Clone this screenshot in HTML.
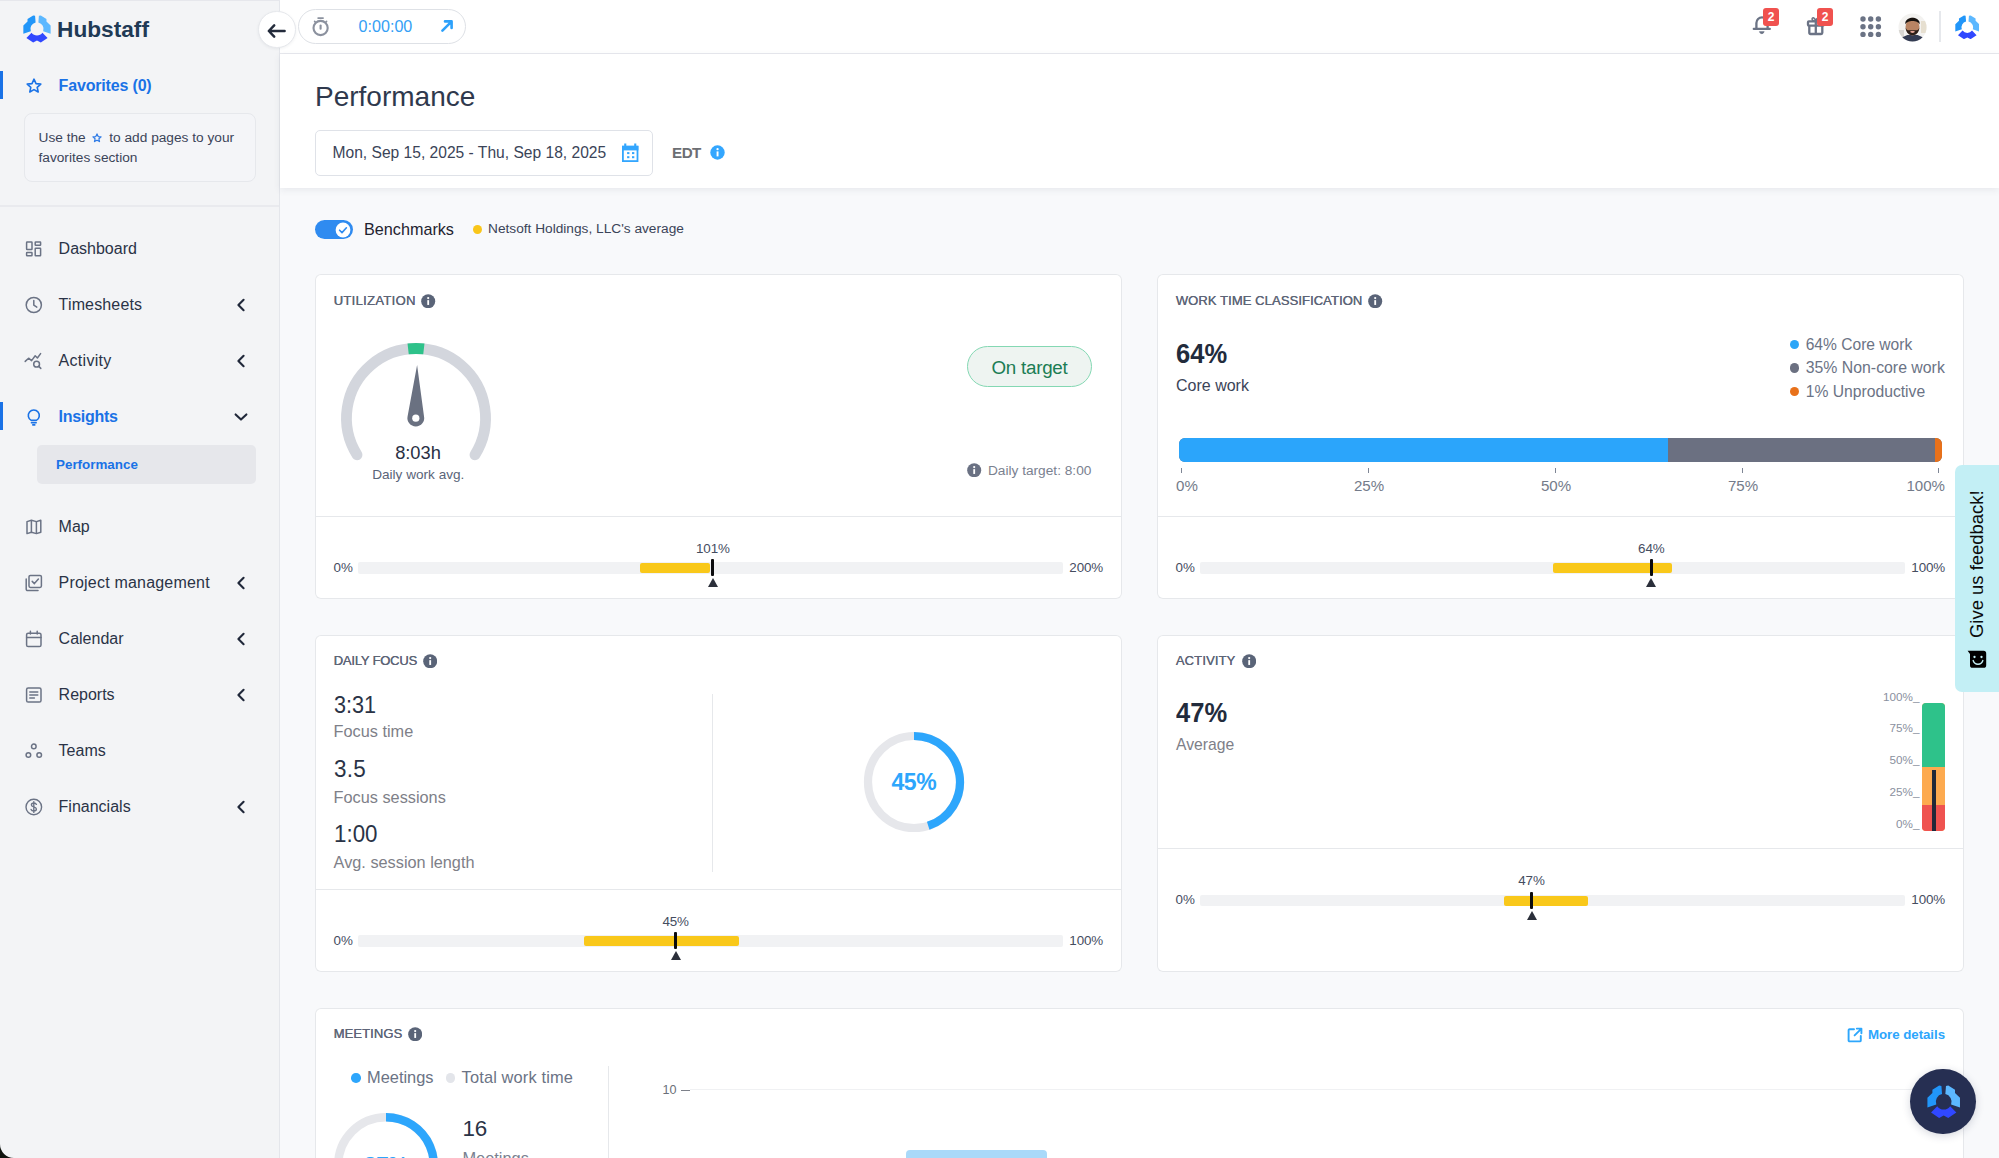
<!DOCTYPE html>
<html>
<head>
<meta charset="utf-8">
<title>Performance</title>
<style>
*{box-sizing:border-box;margin:0;padding:0}
html,body{width:1999px;height:1158px;overflow:hidden;background:#f8f9fb;font-family:"Liberation Sans",sans-serif;color:#2a3346}
.abs{position:absolute}
#side{position:absolute;left:0;top:0;width:280px;height:1158px;background:#f3f4f6;border-right:1px solid #e4e6eb}
#top{position:absolute;left:280px;top:0;width:1719px;height:54px;background:#fff;border-bottom:1px solid #e8e9ee}
#head{position:absolute;left:280px;top:54px;width:1719px;height:134px;background:#fff;box-shadow:0 2px 7px rgba(60,70,90,.09)}
.nav{position:absolute;left:58.6px;margin-top:1px;font-size:16px;color:#2a3346;line-height:20px;white-space:nowrap}
.ico{position:absolute;left:24px;margin-top:.5px;width:20px;height:20px}
.chev{position:absolute;left:233px;margin-top:1px;width:16px;height:16px}
.card{position:absolute;background:#fff;box-shadow:inset 0 0 0 1px #e6e8eb;border-radius:6px}
.ttl{position:absolute;font-size:13px;color:#5d6577;white-space:nowrap;line-height:14px;text-shadow:.3px 0 0 #5d6577}
.sep{position:absolute;left:1px;right:1px;height:1px;background:#e6e8eb}
.bm{position:absolute;left:0;right:0;height:82px}
.bm .l,.bm .r,.bm .v{position:absolute;font-size:13.4px;letter-spacing:-.15px;color:#454d5f;line-height:14px;white-space:nowrap}
.bm .l{left:18.6px;top:44.9px}
.bm .r{right:19px;top:44.9px}
.bm .v{top:25.9px;width:60px;text-align:center}
.bm .track{position:absolute;left:43px;width:705.4px;top:46px;height:11.8px;background:#f1f2f4;border-radius:2px}
.bm .fill{position:absolute;top:47.2px;height:9.8px;background:#f9c81a;border-radius:2px}
.bm .tick{position:absolute;top:43.2px;width:3px;height:17px;background:#0c0c0e;border-radius:1px}
.bm .tri{position:absolute;top:62px;width:0;height:0;border-left:5px solid transparent;border-right:5px solid transparent;border-bottom:9.4px solid #2b2f3a}
.t{position:absolute;white-space:nowrap}
.lb{right:44.6px;font-size:11.7px;line-height:14px;color:#8a909e}
</style>
</head>
<body>
<!-- SIDEBAR -->
<div id="side">
  <div class="abs" style="left:0;top:0;width:280px;height:1px;background:#e6e7ec"></div>
  <!-- logo -->
  <svg class="abs" style="left:22.8px;top:15.2px" width="27.8" height="27.8" viewBox="0 0 32 32">
    <path d="M13.9 0.9 L11.7 0.5 L5.2 4.6 L5.2 7.6 L0.4 12.2 L0.4 21.6 L8.96 18.7 A7.6 7.6 0 0 1 14.5 8.67 Z" fill="#2196f9"/>
    <path d="M18.3 0.9 L20.5 0.5 L27 4.6 L27 7.6 L31.8 12.2 L31.8 21.6 L23.24 18.7 A7.6 7.6 0 0 0 17.7 8.67 Z" fill="#5cb8ff"/>
    <path d="M9.87 20.46 A7.6 7.6 0 0 0 22.33 20.46 L28.3 26.5 L20.5 31.7 L16.1 29.4 L11.7 31.7 L3.9 26.5 Z" fill="#3048ff"/>
  </svg>
  <div class="t" style="left:56.6px;top:16.6px;font-size:21.5px;font-weight:bold;color:#1f3a55;line-height:26px;transform-origin:0 0;transform:scaleX(1.055)">Hubstaff</div>

  <!-- favorites -->
  <div class="abs" style="left:0;top:71px;width:3px;height:28px;background:#1a72e6"></div>
  <svg class="ico" style="top:75px" viewBox="0 0 20 20"><path d="M10 3.2 L12 7.6 L16.8 8.1 L13.2 11.3 L14.2 16 L10 13.6 L5.8 16 L6.8 11.3 L3.2 8.1 L8 7.6 Z" fill="none" stroke="#1a72e6" stroke-width="1.6" stroke-linejoin="round"/></svg>
  <div class="nav" style="top:74.5px;font-weight:bold;color:#1a72e6;letter-spacing:-.17px">Favorites (0)</div>
  <div class="abs" style="left:24px;top:113px;width:232px;height:69px;border:1px solid #e6e8ec;border-radius:8px;background:#f4f5f8"></div>
  <div class="t" style="left:38.5px;top:128px;font-size:13.7px;line-height:20px;color:#3b4458">Use the <svg width="12" height="12" viewBox="0 0 20 20" style="vertical-align:-2px;margin:0 2px"><path d="M10 3.2 L12 7.6 L16.8 8.1 L13.2 11.3 L14.2 16 L10 13.6 L5.8 16 L6.8 11.3 L3.2 8.1 L8 7.6 Z" fill="none" stroke="#2f7be6" stroke-width="2" stroke-linejoin="round"/></svg> to add pages to your<br>favorites section</div>
  <div class="abs" style="left:0;top:205px;width:279px;height:2px;background:#e9eaee"></div>

  <!-- Dashboard -->
  <svg class="ico" style="top:238px" viewBox="0 0 20 20" fill="none" stroke="#6b7385" stroke-width="1.5"><rect x="2.6" y="3" width="5.4" height="7.6" rx=".5"/><rect x="11.2" y="3" width="5.4" height="3.2" rx=".5"/><rect x="2.6" y="13.6" width="5.4" height="3.2" rx=".5"/><rect x="11.2" y="9.2" width="5.4" height="7.6" rx=".5"/></svg>
  <div class="nav" style="top:238px">Dashboard</div>
  <!-- Timesheets -->
  <svg class="ico" style="top:294px" viewBox="0 0 20 20" fill="none" stroke="#6b7385" stroke-width="1.5" stroke-linecap="round" stroke-linejoin="round"><circle cx="9.8" cy="10" r="7.6"/><path d="M9.8 5.6 V10.2 L12.8 12.2"/></svg>
  <div class="nav" style="top:294px;letter-spacing:.15px">Timesheets</div>
  <svg class="chev" style="top:296px" viewBox="0 0 16 16" fill="none" stroke="#20283a" stroke-width="2.1" stroke-linecap="round" stroke-linejoin="round"><path d="M10.6 2.8 L5.4 8 L10.6 13.2"/></svg>
  <!-- Activity -->
  <svg class="ico" style="top:350px" viewBox="0 0 20 20" fill="none" stroke="#6b7385" stroke-width="1.5" stroke-linecap="round" stroke-linejoin="round"><path d="M1.2 10.4 L4.6 7.2 L7.6 9.6 L11.2 4.8 L13.4 7 L16.6 2.6"/><circle cx="12.6" cy="13.2" r="2.9"/><path d="M14.8 15.4 L16.8 17.4"/></svg>
  <div class="nav" style="top:350px;letter-spacing:.3px">Activity</div>
  <svg class="chev" style="top:352px" viewBox="0 0 16 16" fill="none" stroke="#20283a" stroke-width="2.1" stroke-linecap="round" stroke-linejoin="round"><path d="M10.6 2.8 L5.4 8 L10.6 13.2"/></svg>
  <!-- Insights -->
  <div class="abs" style="left:0;top:402px;width:3px;height:28px;background:#1a72e6"></div>
  <svg class="ico" style="top:406px" viewBox="0 0 20 20" fill="none" stroke="#1a72e6" stroke-width="1.6" stroke-linecap="round" stroke-linejoin="round"><path d="M7.2 13.4 A5.5 5.5 0 1 1 12.4 13.4 Z"/><path d="M7.4 15.8 H12.2"/><path d="M8.8 17.9 H10.8"/></svg>
  <div class="nav" style="top:406px;font-weight:bold;color:#1a72e6;letter-spacing:-.3px">Insights</div>
  <svg class="chev" style="top:408px" viewBox="0 0 16 16" fill="none" stroke="#20283a" stroke-width="2.1" stroke-linecap="round" stroke-linejoin="round"><path d="M2.6 5.4 L8 10.6 L13.4 5.4"/></svg>
  <div class="abs" style="left:37px;top:445px;width:219px;height:39px;background:#e6e7eb;border-radius:5px"></div>
  <div class="t" style="left:56px;top:456px;font-size:13.4px;font-weight:bold;color:#1a72e6;line-height:18px">Performance</div>
  <!-- Map -->
  <svg class="ico" style="top:516px" viewBox="0 0 20 20" fill="none" stroke="#6b7385" stroke-width="1.5" stroke-linejoin="round"><path d="M3 4.6 L7.4 3.2 L12.4 4.6 L16.8 3.2 V15.2 L12.4 16.6 L7.4 15.2 L3 16.6 Z"/><path d="M7.4 3.2 V15.2 M12.4 4.6 V16.6"/></svg>
  <div class="nav" style="top:516px">Map</div>
  <!-- Project management -->
  <svg class="ico" style="top:572px" viewBox="0 0 20 20" fill="none" stroke="#6b7385" stroke-width="1.5" stroke-linecap="round" stroke-linejoin="round"><rect x="5" y="2.4" width="12.4" height="12" rx="1.4"/><path d="M8.2 8.4 L10.4 10.6 L14.4 6"/><path d="M2.2 6 V16.2 A1.4 1.4 0 0 0 3.6 17.6 H14"/></svg>
  <div class="nav" style="top:572px;letter-spacing:.2px">Project management</div>
  <svg class="chev" style="top:574px" viewBox="0 0 16 16" fill="none" stroke="#20283a" stroke-width="2.1" stroke-linecap="round" stroke-linejoin="round"><path d="M10.6 2.8 L5.4 8 L10.6 13.2"/></svg>
  <!-- Calendar -->
  <svg class="ico" style="top:628px" viewBox="0 0 20 20" fill="none" stroke="#6b7385" stroke-width="1.5" stroke-linecap="round" stroke-linejoin="round"><rect x="2.6" y="4.2" width="14.4" height="13.4" rx="1.6"/><path d="M2.6 8.4 H17 M6.4 2.2 V5 M13.2 2.2 V5"/></svg>
  <div class="nav" style="top:628px">Calendar</div>
  <svg class="chev" style="top:630px" viewBox="0 0 16 16" fill="none" stroke="#20283a" stroke-width="2.1" stroke-linecap="round" stroke-linejoin="round"><path d="M10.6 2.8 L5.4 8 L10.6 13.2"/></svg>
  <!-- Reports -->
  <svg class="ico" style="top:684px" viewBox="0 0 20 20" fill="none" stroke="#6b7385" stroke-width="1.5" stroke-linecap="round" stroke-linejoin="round"><rect x="2.6" y="3" width="14.4" height="14" rx="1.6"/><path d="M5.8 7 H13.8 M5.8 10 H13.8 M5.8 13 H10.4"/></svg>
  <div class="nav" style="top:684px">Reports</div>
  <svg class="chev" style="top:686px" viewBox="0 0 16 16" fill="none" stroke="#20283a" stroke-width="2.1" stroke-linecap="round" stroke-linejoin="round"><path d="M10.6 2.8 L5.4 8 L10.6 13.2"/></svg>
  <!-- Teams -->
  <svg class="ico" style="top:740px" viewBox="0 0 20 20" fill="none" stroke="#6b7385" stroke-width="1.5"><circle cx="9.8" cy="5.4" r="2.3"/><circle cx="4.4" cy="14" r="2.3"/><circle cx="15.2" cy="14" r="2.3"/></svg>
  <div class="nav" style="top:740px">Teams</div>
  <!-- Financials -->
  <svg class="ico" style="top:796px" viewBox="0 0 20 20" fill="none" stroke="#6b7385" stroke-width="1.4" stroke-linecap="round" stroke-linejoin="round"><circle cx="9.8" cy="10" r="7.8"/><path d="M12.4 7.4 C12 6.4 11 6 9.8 6 C8.4 6 7.4 6.8 7.4 7.9 C7.4 10.4 12.4 9.4 12.4 12 C12.4 13.2 11.3 14 9.8 14 C8.5 14 7.5 13.5 7.1 12.4 M9.8 4.6 V15.4"/></svg>
  <div class="nav" style="top:796px">Financials</div>
  <svg class="chev" style="top:798px" viewBox="0 0 16 16" fill="none" stroke="#20283a" stroke-width="2.1" stroke-linecap="round" stroke-linejoin="round"><path d="M10.6 2.8 L5.4 8 L10.6 13.2"/></svg>
</div>

<!-- TOPBAR -->
<div id="top">
  <!-- timer pill -->
  <div class="abs" style="left:18px;top:9px;width:168px;height:35px;border:1px solid #dee1e6;border-radius:18px;background:#fff"></div>
  <svg class="abs" style="left:30.6px;top:15.6px" width="20" height="22" viewBox="0 0 20 22" fill="none" stroke="#8b919e" stroke-width="2.1" stroke-linecap="round"><circle cx="9.6" cy="12" r="7.1"/><path d="M9.6 9.6 V12.8"/><path d="M7.2 2.1 H12" stroke-width="1.9"/><path d="M3.6 5.4 L4.6 6.4 M15.6 5.4 L14.6 6.4" stroke-width="1.6"/></svg>
  <div class="t" style="left:78.6px;top:16.3px;font-size:16.1px;line-height:20px;color:#35a0f5">0:00:00</div>
  <svg class="abs" style="left:159px;top:17.8px" width="16" height="16" viewBox="0 0 16 16" fill="none" stroke="#2da1fb" stroke-width="2.6" stroke-linecap="round" stroke-linejoin="round"><path d="M3.4 12.6 L12.2 3.8 M6 3.4 H12.6 V10"/></svg>
  <!-- bell -->
  <svg class="abs" style="left:1471.4px;top:14px" width="22" height="22" viewBox="0 0 22 22" fill="none" stroke="#6b7385" stroke-width="2.3" stroke-linecap="round" stroke-linejoin="round"><path d="M2.8 14.9 H18.8 M5.4 14.4 V9 A5.6 5.6 0 0 1 16.6 9 V14.4"/><path d="M8.6 18 A2.3 2.3 0 0 0 13 18 Z" fill="#6b7385" stroke-width=".8"/></svg>
  <div class="abs" style="left:1483px;top:8px;width:16px;height:17.6px;background:#f0524f;border-radius:3px;color:#fff;font-size:12px;font-weight:bold;text-align:center;line-height:19.6px">2</div>
  <!-- gift -->
  <svg class="abs" style="left:1525.3px;top:15px" width="22" height="22" viewBox="0 0 22 22" fill="none" stroke="#6b7385" stroke-width="2.3" stroke-linejoin="round"><rect x="3" y="6.4" width="15.6" height="4.2" rx="0.8"/><path d="M4.3 10.6 V17.8 A1.2 1.2 0 0 0 5.5 19 H16.1 A1.2 1.2 0 0 0 17.3 17.8 V10.6 M10.8 6.6 V19"/><path d="M10.8 6.2 C8 6.2 6.8 5 7.1 3.7 C7.5 2.2 9.9 2.4 10.8 6.2 C11.7 2.4 14.1 2.2 14.5 3.7 C14.8 5 13.6 6.2 10.8 6.2 Z" stroke-width="1.5"/></svg>
  <div class="abs" style="left:1537px;top:8px;width:16px;height:17.6px;background:#f0524f;border-radius:3px;color:#fff;font-size:12px;font-weight:bold;text-align:center;line-height:19.6px">2</div>
  <!-- grid -->
  <svg class="abs" style="left:1579px;top:15px" width="24" height="24" viewBox="0 0 24 24" fill="#6b7385"><circle cx="4" cy="4" r="2.7"/><circle cx="11.7" cy="4" r="2.7"/><circle cx="19.4" cy="4" r="2.7"/><circle cx="4" cy="11.7" r="2.7"/><circle cx="11.7" cy="11.7" r="2.7"/><circle cx="19.4" cy="11.7" r="2.7"/><circle cx="4" cy="19.4" r="2.7"/><circle cx="11.7" cy="19.4" r="2.7"/><circle cx="19.4" cy="19.4" r="2.7"/></svg>
  <!-- avatar -->
  <svg class="abs" style="left:1618.4px;top:13px" width="29" height="29" viewBox="0 0 29 29"><defs><clipPath id="av"><circle cx="14.5" cy="14.5" r="14"/></clipPath></defs><g clip-path="url(#av)"><rect width="29" height="29" fill="#f3f2f0"/><rect x="0" y="17" width="6" height="12" fill="#d8d6d2"/><rect x="23" y="8" width="6" height="12" fill="#e6dfd0"/><ellipse cx="14.5" cy="30" rx="13.5" ry="8.5" fill="#333b52"/><ellipse cx="14.5" cy="13.6" rx="6.9" ry="8.8" fill="#b98463"/><path d="M7.3 11.6 C6.2 2.6 22.8 2.6 21.7 11.6 C20.4 6.8 8.6 6.8 7.3 11.6 Z" fill="#17120f"/><path d="M7.6 14 C7.6 25 21.4 25 21.4 14 C20.4 18.6 17.6 17 14.5 17 C11.4 17 8.6 18.6 7.6 14 Z" fill="#2b1e18"/><ellipse cx="14.5" cy="18.8" rx="2.3" ry="1.1" fill="#e3a596"/></g></svg>
  <div class="abs" style="left:1659.2px;top:11px;width:1.4px;height:31px;background:#e6e8ec"></div>
  <!-- logo small -->
  <svg class="abs" style="left:1675px;top:15px" width="24.4" height="24.4" viewBox="0 0 32 32">
    <path d="M13.9 0.9 L11.7 0.5 L5.2 4.6 L5.2 7.6 L0.4 12.2 L0.4 21.6 L8.96 18.7 A7.6 7.6 0 0 1 14.5 8.67 Z" fill="#2196f9"/>
    <path d="M18.3 0.9 L20.5 0.5 L27 4.6 L27 7.6 L31.8 12.2 L31.8 21.6 L23.24 18.7 A7.6 7.6 0 0 0 17.7 8.67 Z" fill="#5cb8ff"/>
    <path d="M9.87 20.46 A7.6 7.6 0 0 0 22.33 20.46 L28.3 26.5 L20.5 31.7 L16.1 29.4 L11.7 31.7 L3.9 26.5 Z" fill="#3048ff"/>
  </svg>
</div>
<!-- back button -->
<div class="abs" style="left:258px;top:10.6px;width:37.5px;height:37.5px;border-radius:50%;background:#fff;border:1px solid #e6e8ec;box-shadow:0 1px 3px rgba(40,50,70,.07)"></div>
<svg class="abs" style="left:266px;top:20.5px" width="21" height="20" viewBox="0 0 21 20" fill="none" stroke="#232b3b" stroke-width="2.5" stroke-linecap="round" stroke-linejoin="round"><path d="M3 10 H18.6 M8.2 4.4 L2.8 10 L8.2 15.6"/></svg>
<!-- HEADER -->
<div id="head">
  <div class="t" style="left:35px;top:26px;font-size:28px;color:#2f394d;line-height:34px">Performance</div>
  <div class="abs" style="left:35px;top:76px;width:338px;height:46px;border:1px solid #dfe2e8;border-radius:5px;background:#fff"></div>
  <div class="t" style="left:52.5px;top:89px;font-size:15.6px;line-height:20px;color:#3b4458">Mon, Sep 15, 2025 - Thu, Sep 18, 2025</div>
  <svg class="abs" style="left:341px;top:88px" width="19" height="21" viewBox="0 0 19 21"><g fill="#33a6fe"><rect x="3.2" y="1.5" width="2.1" height="3"/><rect x="13.2" y="1.5" width="2.1" height="3"/><rect x="1" y="3.8" width="16.4" height="4.6"/><rect x="6.1" y="10.1" width="2.3" height="2"/><rect x="11" y="10.1" width="2.3" height="2"/><rect x="6.1" y="14.2" width="2.3" height="2"/><rect x="11" y="14.2" width="2.3" height="2"/></g><rect x="1.9" y="4.7" width="14.6" height="14.4" fill="none" stroke="#33a6fe" stroke-width="1.8"/></svg>
  <div class="t" style="left:392px;top:88.7px;font-size:15.2px;font-weight:bold;letter-spacing:-.5px;line-height:20px;color:#6c6e73">EDT</div>
  <svg class="abs" style="left:430.2px;top:91.3px" width="15" height="15" viewBox="0 0 15 15"><circle cx="7.5" cy="7.5" r="7.2" fill="#33a6fe"/><rect x="6.6" y="6.4" width="1.9" height="5" fill="#fff"/><circle cx="7.55" cy="4.2" r="1.15" fill="#fff"/></svg>
</div>
<!-- benchmarks toggle row -->
<div class="abs" style="left:315px;top:220px;width:37.6px;height:19px;border-radius:10px;background:#2f8bf0"></div>
<svg class="abs" style="left:335px;top:221.5px" width="16" height="16" viewBox="0 0 16 16"><circle cx="8" cy="8" r="7.4" fill="#fff"/><path d="M4.6 8.2 L7 10.6 L11.4 5.8" fill="none" stroke="#2f8bf0" stroke-width="1.6" stroke-linecap="round" stroke-linejoin="round"/></svg>
<div class="t" style="left:364px;top:219px;font-size:16.2px;line-height:20px;color:#1f2430">Benchmarks</div>
<div class="abs" style="left:472.5px;top:224.5px;width:9px;height:9px;border-radius:50%;background:#f9c61a"></div>
<div class="t" style="left:488px;top:219px;font-size:13.7px;line-height:20px;color:#3b4458">Netsoft Holdings, LLC's average</div>

<!-- CARD 1: UTILIZATION -->
<div class="card" style="left:315px;top:274px;width:807px;height:325px">
  <div class="ttl" style="left:18.6px;top:20px;letter-spacing:.32px">UTILIZATION</div>
  <svg class="abs" style="left:106.4px;top:19.6px" width="14.4" height="14.4" viewBox="0 0 15 15"><circle cx="7.5" cy="7.5" r="7.3" fill="#5a6478"/><rect x="6.55" y="6.4" width="1.9" height="5" fill="#fff"/><circle cx="7.5" cy="4.2" r="1.15" fill="#fff"/></svg>
  <svg class="abs" style="left:16.4px;top:59.1px" width="170" height="135" viewBox="0 0 170 135">
    <path d="M26.06 121.83 A69.5 69.5 0 1 1 143.94 121.83" fill="none" stroke="#d3d6dd" stroke-width="10.8" stroke-linecap="round"/>
    <path d="M77.13 15.95 A69.5 69.5 0 0 1 92.87 15.95" fill="none" stroke="#2ec28a" stroke-width="10.8"/>
    <path d="M86.1 32 L93 83.2 A8.4 8.4 0 1 1 76.6 83.2 Z" fill="#6a7181"/>
    <circle cx="84.8" cy="85.2" r="3.6" fill="#fff"/>
  </svg>
  <div class="t" style="left:53px;width:100px;text-align:center;top:167.8px;font-size:18.3px;line-height:22px;color:#283044">8:03h</div>
  <div class="t" style="left:43.3px;width:120px;text-align:center;top:191.4px;font-size:13.6px;line-height:20px;color:#5a6478">Daily work avg.</div>
  <div class="abs" style="left:652px;top:72px;width:125px;height:40.6px;border:1.6px solid #84d8b3;border-radius:21px;background:#eef4f1"></div>
  <div class="t" style="left:652px;width:125px;text-align:center;top:81.6px;font-size:18.8px;letter-spacing:-.25px;line-height:23px;color:#1b7d54">On target</div>
  <svg class="abs" style="left:652.4px;top:188.8px" width="14.4" height="14.4" viewBox="0 0 15 15"><circle cx="7.5" cy="7.5" r="7.3" fill="#6a7183"/><rect x="6.55" y="6.4" width="1.9" height="5" fill="#fff"/><circle cx="7.5" cy="4.2" r="1.15" fill="#fff"/></svg>
  <div class="t" style="right:30.6px;top:187px;font-size:13.7px;line-height:20px;color:#7a8190">Daily target: 8:00</div>
  <div class="sep" style="top:242px"></div>
  <div class="bm" style="top:242px">
    <div class="l">0%</div><div class="r">200%</div>
    <div class="track"></div>
    <div class="fill" style="left:325px;width:70.2px"></div>
    <div class="tick" style="left:396.4px"></div>
    <div class="tri" style="left:392.9px"></div>
    <div class="v" style="left:367.9px">101%</div>
  </div>
</div>
<!-- CARD 2: WORK TIME CLASSIFICATION -->
<div class="card" style="left:1157px;top:274px;width:807px;height:325px">
  <div class="ttl" style="left:18.7px;top:20px;letter-spacing:.09px">WORK TIME CLASSIFICATION</div>
  <svg class="abs" style="left:211.3px;top:19.6px" width="14.4" height="14.4" viewBox="0 0 15 15"><circle cx="7.5" cy="7.5" r="7.3" fill="#5a6478"/><rect x="6.55" y="6.4" width="1.9" height="5" fill="#fff"/><circle cx="7.5" cy="4.2" r="1.15" fill="#fff"/></svg>
  <div class="t" style="left:19px;top:64.5px;font-size:27px;font-weight:bold;line-height:30px;color:#222b3c;transform-origin:0 50%;transform:scaleX(.945)">64%</div>
  <div class="t" style="left:19px;top:102px;font-size:16px;line-height:20px;color:#3b4458">Core work</div>
  <div class="abs" style="left:632.8px;top:66.0px;width:9.4px;height:9.4px;border-radius:50%;background:#2ba5f7"></div>
  <div class="abs" style="left:632.8px;top:89.2px;width:9.4px;height:9.4px;border-radius:50%;background:#6b7081"></div>
  <div class="abs" style="left:632.8px;top:112.8px;width:9.4px;height:9.4px;border-radius:50%;background:#e8711a"></div>
  <div class="t" style="left:648.7px;top:60.7px;font-size:15.6px;line-height:20px;color:#6b7385">64% Core work</div>
  <div class="t" style="left:648.7px;top:83.9px;font-size:15.85px;line-height:20px;color:#6b7385">35% Non-core work</div>
  <div class="t" style="left:648.7px;top:107.5px;font-size:15.7px;line-height:20px;color:#6b7385">1% Unproductive</div>
  <div class="abs" style="left:21.7px;top:164.2px;width:763.6px;height:23.6px;border-radius:6px;overflow:hidden;background:#6b7081">
    <div class="abs" style="left:0;top:0;width:489px;height:24px;background:#2ba5fb"></div>
    <div class="abs" style="left:756.2px;top:0;width:9px;height:24px;background:#e8711a"></div>
  </div>
  <div class="abs" style="left:24.3px;top:194px;width:1.2px;height:5.2px;background:#7f8695"></div>
  <div class="abs" style="left:211.3px;top:194px;width:1.2px;height:5.2px;background:#7f8695"></div>
  <div class="abs" style="left:398.3px;top:194px;width:1.2px;height:5.2px;background:#7f8695"></div>
  <div class="abs" style="left:585.3px;top:194px;width:1.2px;height:5.2px;background:#7f8695"></div>
  <div class="abs" style="left:780.6px;top:194px;width:1.2px;height:5.2px;background:#7f8695"></div>
  <div class="t" style="left:19px;top:202px;font-size:15.1px;line-height:20px;color:#747b8a">0%</div>
  <div class="t" style="left:172px;width:80px;text-align:center;top:202px;font-size:15.1px;line-height:20px;color:#747b8a">25%</div>
  <div class="t" style="left:359px;width:80px;text-align:center;top:202px;font-size:15.1px;line-height:20px;color:#747b8a">50%</div>
  <div class="t" style="left:546px;width:80px;text-align:center;top:202px;font-size:15.1px;line-height:20px;color:#747b8a">75%</div>
  <div class="t" style="right:19px;top:202px;font-size:15.1px;line-height:20px;color:#747b8a">100%</div>
  <div class="sep" style="top:242px"></div>
  <div class="bm" style="top:242px">
    <div class="l">0%</div><div class="r">100%</div>
    <div class="track"></div>
    <div class="fill" style="left:396px;width:119px"></div>
    <div class="tick" style="left:492.8px"></div>
    <div class="tri" style="left:489.3px"></div>
    <div class="v" style="left:464.3px">64%</div>
  </div>
</div>
<!-- CARD 3: DAILY FOCUS -->
<div class="card" style="left:315px;top:634.5px;width:807px;height:337px">
  <div class="ttl" style="left:18.6px;top:19.7px;letter-spacing:-.2px">DAILY FOCUS</div>
  <svg class="abs" style="left:108.1px;top:19.5px" width="14.4" height="14.4" viewBox="0 0 15 15"><circle cx="7.5" cy="7.5" r="7.3" fill="#5a6478"/><rect x="6.55" y="6.4" width="1.9" height="5" fill="#fff"/><circle cx="7.5" cy="4.2" r="1.15" fill="#fff"/></svg>
  <div class="t" style="left:18.6px;top:56.3px;font-size:23.4px;line-height:28px;color:#2a3346;transform-origin:0 50%;transform:scaleX(.925)">3:31</div>
  <div class="t" style="left:18.6px;top:86.8px;font-size:16.3px;line-height:20px;color:#7e8088">Focus time</div>
  <div class="t" style="left:18.6px;top:120.6px;font-size:23.4px;line-height:28px;color:#2a3346;letter-spacing:.3px;transform-origin:0 50%;transform:scaleX(.96)">3.5</div>
  <div class="t" style="left:18.6px;top:152.4px;font-size:16.3px;line-height:20px;color:#7e8088">Focus sessions</div>
  <div class="t" style="left:18.6px;top:185.9px;font-size:23.4px;line-height:28px;color:#2a3346;transform-origin:0 50%;transform:scaleX(.955)">1:00</div>
  <div class="t" style="left:18.6px;top:217.9px;font-size:16.3px;line-height:20px;color:#7e8088">Avg. session length</div>
  <div class="abs" style="left:396.7px;top:59px;width:1px;height:178px;background:#e6e8eb"></div>
  <svg class="abs" style="left:543.9px;top:92.8px" width="110" height="110" viewBox="0 0 110 110">
    <circle cx="55" cy="55" r="46" fill="none" stroke="#e6e7eb" stroke-width="8.2"/>
    <path d="M55 9 A46 46 0 0 1 69.21 98.75" fill="none" stroke="#2da6fc" stroke-width="8.2"/>
  </svg>
  <div class="t" style="left:548.9px;width:100px;text-align:center;top:133.5px;font-size:23px;font-weight:bold;line-height:28px;color:#2da6fc;letter-spacing:-.4px">45%</div>
  <div class="sep" style="top:254.8px"></div>
  <div class="bm" style="top:254.8px">
    <div class="l">0%</div><div class="r">100%</div>
    <div class="track"></div>
    <div class="fill" style="left:269px;width:155px"></div>
    <div class="tick" style="left:359.1px"></div>
    <div class="tri" style="left:355.6px"></div>
    <div class="v" style="left:330.6px">45%</div>
  </div>
</div>
<!-- CARD 4: ACTIVITY -->
<div class="card" style="left:1157px;top:634.5px;width:807px;height:337px">
  <div class="ttl" style="left:18.7px;top:19.7px;letter-spacing:.15px">ACTIVITY</div>
  <svg class="abs" style="left:84.5px;top:19.5px" width="14.4" height="14.4" viewBox="0 0 15 15"><circle cx="7.5" cy="7.5" r="7.3" fill="#5a6478"/><rect x="6.55" y="6.4" width="1.9" height="5" fill="#fff"/><circle cx="7.5" cy="4.2" r="1.15" fill="#fff"/></svg>
  <div class="t" style="left:19px;top:63.5px;font-size:27px;font-weight:bold;line-height:30px;color:#222b3c;transform-origin:0 50%;transform:scaleX(.945)">47%</div>
  <div class="t" style="left:19px;top:100.5px;font-size:15.7px;line-height:20px;color:#7e8088">Average</div>
  <div class="abs" style="left:765px;top:68px;width:23.2px;height:128.2px;border-radius:4px;overflow:hidden;background:#fdaa4f">
    <div class="abs" style="left:0;top:0;width:24px;height:64.1px;background:#2ec28a"></div>
    <div class="abs" style="left:0;top:102.6px;width:24px;height:26px;background:#ef5350"></div>
    <div class="abs" style="left:9.5px;top:67.5px;width:4.3px;height:61px;background:#212838"></div>
  </div>
  <div class="t lb" style="top:55.4px">100%_</div>
  <div class="t lb" style="top:86.7px">75%_</div>
  <div class="t lb" style="top:118.4px">50%_</div>
  <div class="t lb" style="top:150.4px">25%_</div>
  <div class="t lb" style="top:182.4px">0%_</div>
  <div class="sep" style="top:213.6px"></div>
  <div class="bm" style="top:214.1px">
    <div class="l">0%</div><div class="r">100%</div>
    <div class="track"></div>
    <div class="fill" style="left:346.5px;width:84.3px"></div>
    <div class="tick" style="left:373.0px"></div>
    <div class="tri" style="left:369.5px"></div>
    <div class="v" style="left:344.5px">47%</div>
  </div>
</div>
<!-- CARD 5: MEETINGS -->
<div class="card" style="left:315px;top:1008px;width:807px;height:200px;width:1649px">
  <div class="ttl" style="left:18.6px;top:19.3px;letter-spacing:.08px">MEETINGS</div>
  <svg class="abs" style="left:92.8px;top:18.8px" width="14.4" height="14.4" viewBox="0 0 15 15"><circle cx="7.5" cy="7.5" r="7.3" fill="#5a6478"/><rect x="6.55" y="6.4" width="1.9" height="5" fill="#fff"/><circle cx="7.5" cy="4.2" r="1.15" fill="#fff"/></svg>
  <svg class="abs" style="left:1532px;top:18.6px" width="16" height="16" viewBox="0 0 16 16" fill="none" stroke="#2da6fc" stroke-width="1.9" stroke-linecap="round" stroke-linejoin="round"><path d="M7 2.2 H2.6 A1 1 0 0 0 1.6 3.2 V13.4 A1 1 0 0 0 2.6 14.4 H12.8 A1 1 0 0 0 13.8 13.4 V9"/><path d="M9.8 1.6 H14.4 V6.2 M14.2 1.8 L7.6 8.4"/></svg>
  <div class="t" style="right:19px;top:17px;font-size:13.3px;font-weight:bold;line-height:20px;color:#2da6fc;letter-spacing:-.05px">More details</div>
  <div class="abs" style="left:36.2px;top:65.2px;width:9.6px;height:9.6px;border-radius:50%;background:#2da6fc"></div>
  <div class="t" style="left:52px;top:58.6px;font-size:16.4px;line-height:20px;color:#6b7385">Meetings</div>
  <div class="abs" style="left:130.6px;top:65.2px;width:9.6px;height:9.6px;border-radius:50%;background:#e3e5ea"></div>
  <div class="t" style="left:146.6px;top:58.6px;font-size:16.4px;line-height:20px;color:#6b7385;letter-spacing:.14px">Total work time</div>
  <div class="abs" style="left:293px;top:58px;width:1px;height:120px;background:#e6e8eb"></div>
  <svg class="abs" style="left:11px;top:96.6px" width="120" height="120" viewBox="0 0 120 120">
    <circle cx="60" cy="60" r="47.8" fill="none" stroke="#e6e7eb" stroke-width="8.4"/>
    <path d="M60 12.2 A47.8 47.8 0 0 1 94.8 92.8" fill="none" stroke="#2da6fc" stroke-width="8.4"/>
  </svg>
  <div class="t" style="left:21px;width:100px;text-align:center;top:143px;font-size:22.5px;font-weight:bold;line-height:28px;color:#2da6fc;letter-spacing:-.4px">37%</div>
  <div class="t" style="left:147.4px;top:106.6px;font-size:22.4px;line-height:28px;color:#2a3346">16</div>
  <div class="t" style="left:147.4px;top:140.4px;font-size:16.4px;line-height:20px;color:#7a8190">Meetings</div>
  <div class="t" style="left:347.6px;top:74.8px;font-size:12.6px;line-height:14px;color:#6b6f78">10</div>
  <div class="abs" style="left:365.5px;top:81.5px;width:9.2px;height:1px;background:#7d818a"></div>
  <div class="abs" style="left:374.7px;top:81.4px;width:1273px;height:1px;background:#f0f1f3"></div>
  <div class="abs" style="left:591px;top:142.2px;width:140.8px;height:30px;border-radius:4px 4px 0 0;background:#a9d9f9"></div>
</div>
<!-- feedback tab -->
<div class="abs" style="left:1955px;top:465.4px;width:60px;height:226.5px;background:#c3eff5;border-radius:7px"></div>
<div class="t" style="left:1965.6px;top:637.6px;width:160px;height:22px;transform-origin:0 0;transform:rotate(-90deg);font-size:18.45px;line-height:22px;color:#0b0b0b">Give us feedback!</div>
<svg class="abs" style="left:1967px;top:650px" width="20" height="19" viewBox="0 0 20 19"><path d="M0.6 0.8 H16.6 A2.6 2.6 0 0 1 19.2 3.4 V15.2 A2.6 2.6 0 0 1 16.6 17.8 H5.6 A2.6 2.6 0 0 1 3 15.2 V4 Z" fill="#000"/><circle cx="7.5" cy="7" r="1.15" fill="#c3eff5"/><circle cx="14.5" cy="7" r="1.15" fill="#c3eff5"/><path d="M6.2 10.6 A5 5 0 0 0 15.8 10.6" fill="none" stroke="#c3eff5" stroke-width="1.5" stroke-linecap="round"/></svg>
<!-- chat bubble -->
<div class="abs" style="left:1910px;top:1068.6px;width:65.6px;height:65.6px;border-radius:50%;background:#262f52;box-shadow:0 2px 8px rgba(30,40,70,.18)"></div>
<svg class="abs" style="left:1926.6px;top:1084.8px" width="33.2" height="33.2" viewBox="0 0 32 32">
  <path d="M13.9 0.9 L11.7 0.5 L5.2 4.6 L5.2 7.6 L0.4 12.2 L0.4 21.6 L8.96 18.7 A7.6 7.6 0 0 1 14.5 8.67 Z" fill="#2196f9"/>
  <path d="M18.3 0.9 L20.5 0.5 L27 4.6 L27 7.6 L31.8 12.2 L31.8 21.6 L23.24 18.7 A7.6 7.6 0 0 0 17.7 8.67 Z" fill="#5cb8ff"/>
  <path d="M9.87 20.46 A7.6 7.6 0 0 0 22.33 20.46 L28.3 26.5 L20.5 31.7 L16.1 29.4 L11.7 31.7 L3.9 26.5 Z" fill="#3048ff"/>
</svg>
<!-- window bottom-left rounded corner -->
<svg class="abs" style="left:0;top:1144px" width="14" height="14" viewBox="0 0 14 14"><path d="M0 0 A14 14 0 0 0 14 14 L0 14 Z" fill="#10140f"/></svg>
</body>
</html>
